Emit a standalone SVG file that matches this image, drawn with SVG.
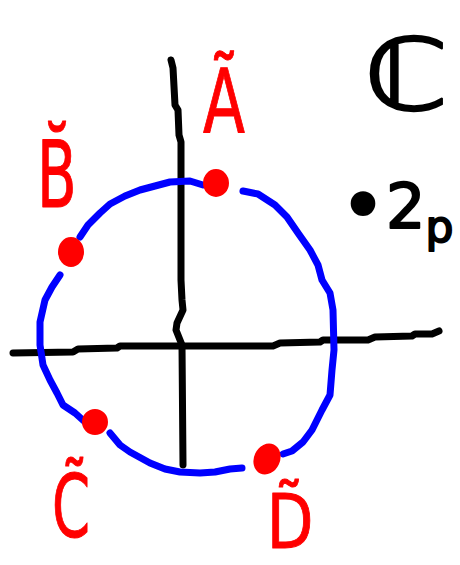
<svg xmlns="http://www.w3.org/2000/svg" width="460" height="565" viewBox="0 0 460 565">
<style>
.ax{fill:none;stroke:#000;stroke-width:7;stroke-linecap:round;stroke-linejoin:round}
.circ{fill:none;stroke:#0000ff;stroke-width:7;stroke-linecap:round;stroke-linejoin:round}
.pt{fill:#ff0000;stroke:#ff0000;stroke-width:2}
.lbl{font-family:"DejaVu Sans",sans-serif;fill:#ff0000;stroke:#ff0000;stroke-width:1;stroke-linejoin:round}
.blk{font-family:"DejaVu Sans",sans-serif;fill:#000;stroke:#000;stroke-width:2;stroke-linejoin:round}
</style>
<rect width="460" height="565" fill="#fff"/>
<g id="axes">
<polyline class="ax" points="171,60 173,68 175,105 178,110 179,135 181,142 181,280 182,300 183,310 177,323 176,330 182,345 183,465"/>
<polyline class="ax" points="13,353 73,352 78,349 117,348 120,346 273,346 280,343 320,342 323,340 368,340 375,337 412,336 415,334 432,334 439,331"/>
</g>
<g id="circle">
<polyline class="circ" points="80,237 88,225 100,213 110,204 125,196 140,190 155,186 170,182 190,181 203,185"/>
<polyline class="circ" points="243,191 258,194 275,205 287,217 298,233 310,250 318,265 322,280 330,293 333,310 334,350 332,370 330,395 322,410 312,430 303,442 292,451 283,454"/>
<polyline class="circ" points="242,468 230,469 215,472 200,473 180,472 165,469 150,463 130,452 120,445 110,433"/>
<polyline class="circ" points="85,422 75,413 63,405 57,393 50,380 43,365 40,345 40,322 45,300 52,287 60,275"/>
</g>
<g id="pointA"><ellipse class="pt" cx="216" cy="183" rx="12" ry="13"/></g>
<g id="pointB"><ellipse class="pt" cx="71" cy="252" rx="12" ry="14"/></g>
<g id="pointC"><ellipse class="pt" cx="95" cy="422" rx="12" ry="12"/></g>
<g id="pointD"><ellipse class="pt" cx="267" cy="459" rx="12" ry="15" transform="rotate(25 267 459)"/></g>
<g id="labelA"><text class="lbl" font-size="89" text-anchor="middle" transform="translate(224,133) scale(0.69,1)">Ã</text></g>
<g id="labelB"><text class="lbl" font-size="92" text-anchor="middle" transform="translate(57,207) scale(0.63,1)">B̆</text></g>
<g id="labelC"><text class="lbl" font-size="88" text-anchor="middle" transform="translate(71,537) scale(0.62,1)">C̃</text></g>
<g id="labelD"><text class="lbl" font-size="74" text-anchor="middle" transform="translate(290,548) scale(0.82,1)">D̃</text></g>
<g id="setC"><text class="blk" font-size="100" text-anchor="middle" transform="translate(406,110) scale(1.2,1)">ℂ</text></g>
<g id="order"><text class="blk" font-size="62" x="340" y="228"><tspan font-size="78" dy="5">•</tspan><tspan dy="-5">2</tspan><tspan font-size="44" dy="14">p</tspan></text></g>
</svg>
